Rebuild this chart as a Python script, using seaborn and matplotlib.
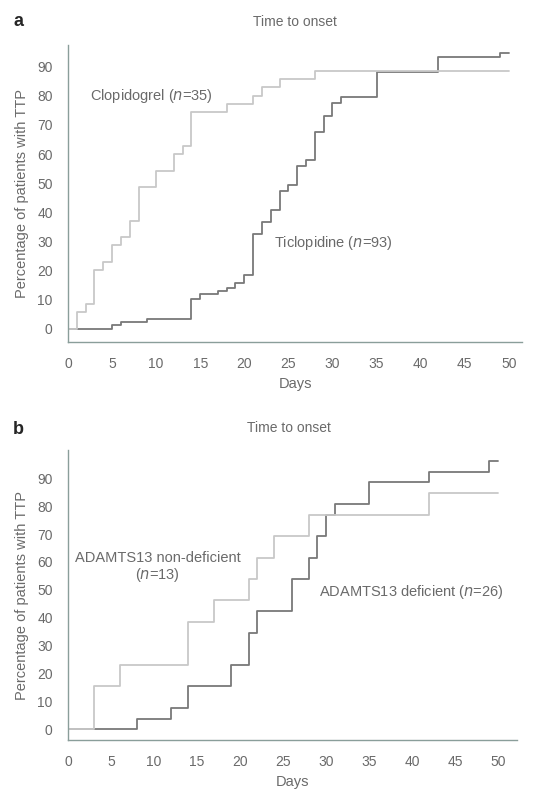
import numpy as np
import pandas as pd
import matplotlib
matplotlib.use('Agg')
import matplotlib.pyplot as plt
import seaborn as sns

# panel a: cumulative percentage of patients with TTP by day
clopi_days = [0, 1, 2, 3, 4, 5, 6, 7, 8, 10, 12, 13, 14, 18, 21, 22, 24, 28, 50]
clopi_pct = [0, 5.7, 8.6, 20.0, 22.9, 28.6, 31.4, 37.1, 48.6, 54.3, 60.0, 62.9,
             74.3, 77.1, 80.0, 82.9, 85.7, 88.6, 88.6]
ticlo_days = [0, 5, 6, 9, 14, 15, 17, 18, 19, 20, 21, 22, 23, 24, 25, 26, 27,
              28, 29, 30, 31, 35, 42, 49, 50]
ticlo_pct = [0, 1.1, 2.2, 3.2, 10.2, 12.0, 12.9, 14.0, 15.8, 18.3, 32.5, 36.6,
             40.9, 47.3, 49.5, 55.9, 58.1, 67.7, 73.1, 77.4, 79.6, 88.2, 93.5,
             94.6, 94.6]

# panel b
nondef_days = [0, 3, 6, 14, 17, 21, 22, 24, 28, 42, 50]
nondef_pct = [0, 15.4, 23.1, 38.5, 46.2, 53.8, 61.5, 69.2, 76.9, 84.6, 84.6]
def_days = [0, 8, 12, 14, 19, 21, 22, 26, 28, 29, 30, 31, 35, 42, 49, 50]
def_pct = [0, 3.85, 7.7, 15.4, 23.1, 34.6, 42.3, 53.8, 61.5, 69.2, 76.9, 80.8,
           88.5, 92.3, 96.2, 96.2]

y_ticks = list(range(0, 100, 10))
x_ticks = list(range(0, 55, 5))

light = '#c8c8c8'
dark = '#787878'
spine_col = '#8a9e9a'
text_col = '#6a6a6a'

sns.set_style('white')
plt.rcParams['font.family'] = ['Liberation Sans', 'DejaVu Sans']


def make_df(d1, p1, n1, d2, p2, n2):
    return pd.concat([pd.DataFrame({'day': d1, 'pct': p1, 'group': n1}),
                      pd.DataFrame({'day': d2, 'pct': p2, 'group': n2})],
                     ignore_index=True)


def style_axes(ax, xmax, ymin, ymax):
    ax.set_xlim(0, xmax)
    ax.set_ylim(ymin, ymax)
    ax.set_xticks(x_ticks)
    ax.set_yticks(y_ticks)
    for s in ['top', 'right']:
        ax.spines[s].set_visible(False)
    for s in ['left', 'bottom']:
        ax.spines[s].set_color(spine_col)
        ax.spines[s].set_linewidth(1.0)
    ax.tick_params(axis='both', colors=spine_col, labelcolor=text_col,
                   labelsize=10, length=3, width=0.8, direction='out')
    ax.tick_params(axis='x', pad=8)
    ax.tick_params(axis='y', pad=8)
    ax.set_xlabel('Days', color=text_col, fontsize=10.5, labelpad=4)
    ax.set_ylabel('Percentage of patients with TTP', color=text_col,
                  fontsize=10.5, labelpad=6)
    if ax.get_legend() is not None:
        ax.get_legend().remove()


fig = plt.figure(figsize=(5.56, 7.91), dpi=100)
ax_a = fig.add_axes([68 / 556, 1 - 342 / 791, (522 - 68) / 556, (342 - 45) / 791])
ax_b = fig.add_axes([68 / 556, 1 - 740 / 791, (517 - 68) / 556, (740 - 450) / 791])

df_a = make_df(ticlo_days, ticlo_pct, 'Ticlopidine', clopi_days, clopi_pct, 'Clopidogrel')
sns.lineplot(data=df_a, x='day', y='pct', hue='group', estimator=None,
             palette={'Ticlopidine': dark, 'Clopidogrel': light},
             drawstyle='steps-post', linewidth=1.3, ax=ax_a)
style_axes(ax_a, 51.5, -4.6, 97.5)
ax_a.text(2.5, 80, 'Clopidogrel ($n$=35)', color=text_col, fontsize=10.5, va='center')
ax_a.text(23.4, 29.5, 'Ticlopidine ($n$=93)', color=text_col, fontsize=10.5, va='center')

df_b = make_df(def_days, def_pct, 'deficient', nondef_days, nondef_pct, 'non-deficient')
sns.lineplot(data=df_b, x='day', y='pct', hue='group', estimator=None,
             palette={'deficient': dark, 'non-deficient': light},
             drawstyle='steps-post', linewidth=1.3, ax=ax_b)
style_axes(ax_b, 52.2, -3.8, 100.1)
ax_b.text(10.4, 58.0, 'ADAMTS13 non-deficient\n($n$=13)', color=text_col,
          fontsize=10.5, ha='center', va='center', linespacing=1.05)
ax_b.text(29.2, 49.3, 'ADAMTS13 deficient ($n$=26)', color=text_col, fontsize=10.5,
          va='center')

fig.text(295 / 556, 1 - 22 / 791, 'Time to onset', color=text_col, fontsize=10,
         ha='center', va='center')
fig.text(289 / 556, 1 - 428 / 791, 'Time to onset', color=text_col, fontsize=10,
         ha='center', va='center')
fig.text(13 / 556, 1 - 22 / 791, 'a', fontsize=13, fontweight='bold', va='center')
fig.text(13 / 556, 1 - 429 / 791, 'b', fontsize=13, fontweight='bold', va='center')

fig.savefig('out.png', dpi=100)
